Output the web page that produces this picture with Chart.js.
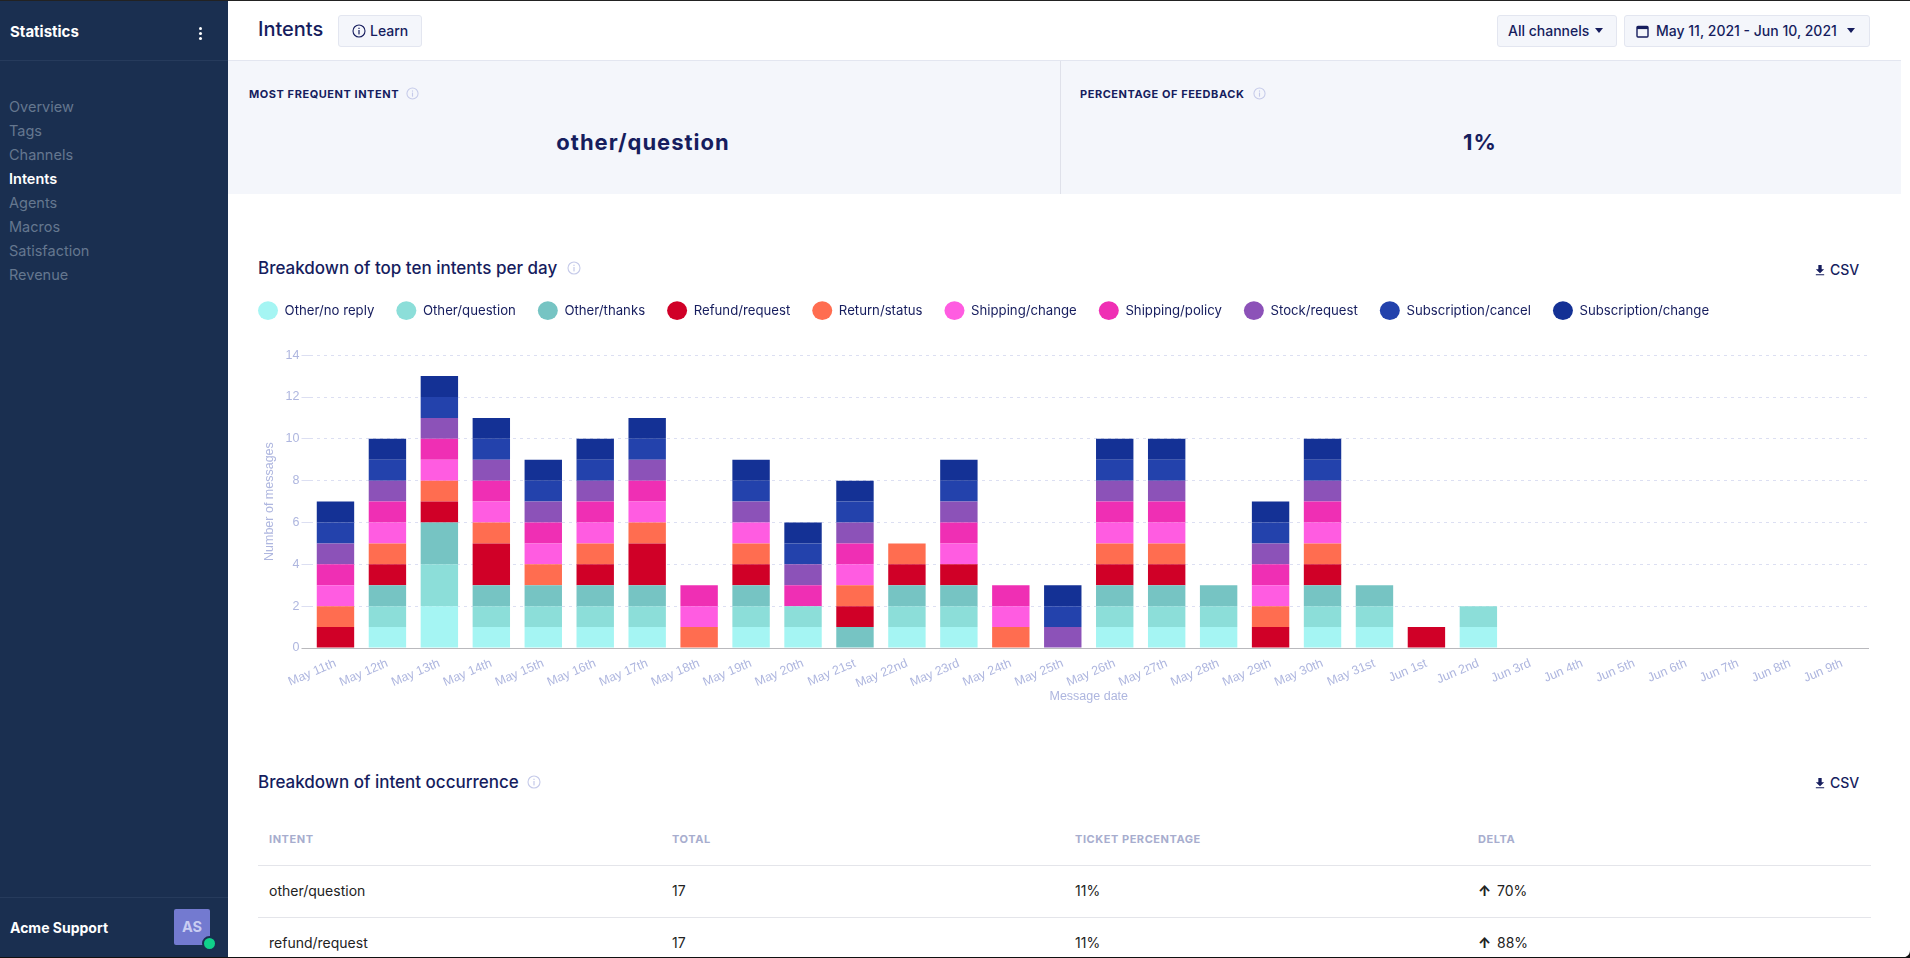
<!DOCTYPE html>
<html>
<head>
<meta charset="utf-8">
<title>Intents</title>
<script src="https://cdn.jsdelivr.net/npm/chart.js@4"></script>
<style>
  html, body { margin: 0; height: 100%; background: #fff; overflow: hidden; font-family: Inter, sans-serif; color: #161d5e; }
  #page { position: relative; width: 1910px; height: 958px; overflow: hidden; background: #fff; }
  #page > div, #page > svg, #side > div { position: absolute; white-space: nowrap; }
  .t { transform: translateY(-50%); line-height: 20px; }
  #side { position: absolute; left: 0; top: 0; width: 228px; height: 958px; background: #1a2f50; }
  .nav { left: 9px; font-size: 14.5px; color: #65778f; }
  .btn { background: #f4f6fb; border: 1px solid #e3e6f0; border-radius: 3px; box-sizing: border-box; height: 32px; top: 15px; }
  .panel-label { font-size: 11px; font-weight: 700; letter-spacing: .55px; }
  .big { font-size: 22px; font-weight: 700; letter-spacing: 1px; transform: translate(-50%, -50%); line-height: 28px; }
  .h2 { font-size: 17px; font-weight: 500; }
  .th { font-size: 11px; font-weight: 700; color: #a7adce; letter-spacing: .55px; }
  .td { font-size: 14px; color: #222; }
  .td b { font-weight: 800; margin-right: 2px; }
  .rule { height: 1px; background: #e4e5ea; left: 258px; width: 1613px; }
  .caret { width: 0; height: 0; border-left: 4px solid transparent; border-right: 4px solid transparent; border-top: 5px solid #161d5e; }
  #chartBox { position: absolute; left: 236px; top: 282px; width: 1644px; height: 422px; }
</style>
</head>
<body>
<svg width="0" height="0" style="position:absolute">
  <symbol id="info" viewBox="0 0 14 14">
    <circle cx="7" cy="7" r="6" fill="none" stroke="currentColor" stroke-width="1.1"/>
    <rect x="6.4" y="6" width="1.2" height="4.4" fill="currentColor"/>
    <rect x="6.4" y="3.7" width="1.2" height="1.3" fill="currentColor"/>
  </symbol>
  <symbol id="dl" viewBox="0 0 12 14">
    <path d="M4 1h4v5h3l-5 5-5-5h3z M1 12h10v1.4H1z" fill="currentColor"/>
  </symbol>
</svg>
<div id="page">
  <div id="side">
    <div class="t" style="left:10px;top:32px;font-size:15px;font-weight:700;color:#fff">Statistics</div>
    <div style="left:199px;top:27px;width:3px;height:3px;background:#fff;border-radius:50%;box-shadow:0 5px 0 #fff,0 10px 0 #fff"></div>
    <div style="left:0;top:60px;width:228px;height:1px;background:#263b5c"></div>
    <div class="nav t" style="top:107px">Overview</div>
    <div class="nav t" style="top:131px">Tags</div>
    <div class="nav t" style="top:155px">Channels</div>
    <div class="nav t" style="top:179px;color:#fff;font-weight:600">Intents</div>
    <div class="nav t" style="top:203px">Agents</div>
    <div class="nav t" style="top:227px">Macros</div>
    <div class="nav t" style="top:251px">Satisfaction</div>
    <div class="nav t" style="top:275px">Revenue</div>
    <div style="left:0;top:897px;width:228px;height:1px;background:#263b5c"></div>
    <div class="t" style="left:10px;top:928px;font-size:14px;font-weight:700;color:#fff">Acme Support</div>
    <div style="left:174px;top:909px;width:36px;height:36px;background:#737ad0;border-radius:2px;color:#c9cdf2;font-size:14.5px;font-weight:700;line-height:36px;text-align:center">AS</div>
    <div style="left:202px;top:936px;width:11px;height:11px;background:#10d08a;border:2px solid #1a2f50;border-radius:50%"></div>
  </div>

  <div class="t" style="left:258px;top:29px;font-size:20px;font-weight:500">Intents</div>
  <div class="btn" style="left:338px;width:84px"></div>
  <svg style="left:352px;top:24px;color:#161d5e" width="14" height="14"><use href="#info"/></svg>
  <div class="t" style="left:370px;top:31px;font-size:14px;font-weight:500">Learn</div>

  <div class="btn" style="left:1497px;width:120px"></div>
  <div class="t" style="left:1508px;top:31px;font-size:14px;font-weight:500">All channels</div>
  <div class="caret" style="left:1595px;top:28px"></div>
  <div class="btn" style="left:1624px;width:246px"></div>
  <svg style="left:1636px;top:24px" width="13" height="14" viewBox="0 0 13 14"><rect x="1" y="2.5" width="11" height="10.5" rx="1" fill="none" stroke="#161d5e" stroke-width="1.4"/><rect x="1" y="2.5" width="11" height="2.6" fill="#161d5e"/></svg>
  <div class="t" style="left:1656px;top:31px;font-size:14px;font-weight:500">May 11, 2021 - Jun 10, 2021</div>
  <div class="caret" style="left:1847px;top:28px"></div>

  <div style="left:228px;top:60px;width:1673px;height:134px;background:#f4f6fb;border-top:1px solid #e3e6f0;box-sizing:border-box"></div>
  <div style="left:1060px;top:61px;width:1px;height:133px;background:#dfe1ea"></div>
  <div class="panel-label t" style="left:249px;top:94px">MOST FREQUENT INTENT</div>
  <svg style="left:406px;top:87px;color:#c5cae9" width="13" height="13"><use href="#info"/></svg>
  <div class="big" style="left:643px;top:142px">other/question</div>
  <div class="panel-label t" style="left:1080px;top:94px">PERCENTAGE OF FEEDBACK</div>
  <svg style="left:1253px;top:87px;color:#c5cae9" width="13" height="13"><use href="#info"/></svg>
  <div class="big" style="left:1480px;top:142px">1%</div>

  <div class="h2 t" style="left:258px;top:268px">Breakdown of top ten intents per day</div>
  <svg style="left:567px;top:261px;color:#c5cae9" width="14" height="14"><use href="#info"/></svg>
  <svg style="left:1815px;top:264px;color:#161d5e" width="10" height="12"><use href="#dl"/></svg>
  <div class="t" style="left:1830px;top:270px;font-size:14px;font-weight:500">CSV</div>

  <div id="chartBox"><canvas id="intentsChart"></canvas></div>

  <div class="h2 t" style="left:258px;top:782px">Breakdown of intent occurrence</div>
  <svg style="left:527px;top:775px;color:#c5cae9" width="14" height="14"><use href="#info"/></svg>
  <svg style="left:1815px;top:777px;color:#161d5e" width="10" height="12"><use href="#dl"/></svg>
  <div class="t" style="left:1830px;top:783px;font-size:14px;font-weight:500">CSV</div>

  <div class="th t" style="left:269px;top:839px">INTENT</div>
  <div class="th t" style="left:672px;top:839px">TOTAL</div>
  <div class="th t" style="left:1075px;top:839px">TICKET PERCENTAGE</div>
  <div class="th t" style="left:1478px;top:839px">DELTA</div>
  <div class="rule" style="top:865px"></div>
  <div class="td t" style="left:269px;top:891px">other/question</div>
  <div class="td t" style="left:672px;top:891px">17</div>
  <div class="td t" style="left:1075px;top:891px">11%</div>
  <div class="td t" style="left:1478px;top:891px"><b>↑</b> 70%</div>
  <div class="rule" style="top:917px"></div>
  <div class="td t" style="left:269px;top:943px">refund/request</div>
  <div class="td t" style="left:672px;top:943px">17</div>
  <div class="td t" style="left:1075px;top:943px">11%</div>
  <div class="td t" style="left:1478px;top:943px"><b>↑</b> 88%</div>

  <div style="left:0;top:0;width:1910px;height:1px;background:#222"></div>
  <div style="left:0;top:957px;width:1910px;height:1px;background:#111"></div>
  <svg style="left:1902px;top:950px" width="8" height="8"><path d="M8 0C8 5 5 7 0 8H8z" fill="#111"/></svg>
</div>

<script>
const days = ['May 11th','May 12th','May 13th','May 14th','May 15th','May 16th','May 17th','May 18th','May 19th','May 20th',
  'May 21st','May 22nd','May 23rd','May 24th','May 25th','May 26th','May 27th','May 28th','May 29th','May 30th',
  'May 31st','Jun 1st','Jun 2nd','Jun 3rd','Jun 4th','Jun 5th','Jun 6th','Jun 7th','Jun 8th','Jun 9th'];

const otherNoReply      = [0,1,2,1,1,1,1,0,1,1,0,1,1,0,0,1,1,1,0,1,1,0,1,0,0,0,0,0,0,0];
const otherQuestion     = [0,1,2,1,1,1,1,0,1,1,0,1,1,0,0,1,1,1,0,1,1,0,1,0,0,0,0,0,0,0];
const otherThanks       = [0,1,2,1,1,1,1,0,1,0,1,1,1,0,0,1,1,1,0,1,1,0,0,0,0,0,0,0,0,0];
const refundRequest     = [1,1,1,2,0,1,2,0,1,0,1,1,1,0,0,1,1,0,1,1,0,1,0,0,0,0,0,0,0,0];
const returnStatus      = [1,1,1,1,1,1,1,1,1,0,1,1,0,1,0,1,1,0,1,1,0,0,0,0,0,0,0,0,0,0];
const shippingChange    = [1,1,1,1,1,1,1,1,1,0,1,0,1,1,0,1,1,0,1,1,0,0,0,0,0,0,0,0,0,0];
const shippingPolicy    = [1,1,1,1,1,1,1,1,0,1,1,0,1,1,0,1,1,0,1,1,0,0,0,0,0,0,0,0,0,0];
const stockRequest      = [1,1,1,1,1,1,1,0,1,1,1,0,1,0,1,1,1,0,1,1,0,0,0,0,0,0,0,0,0,0];
const subscriptionCancel = [1,1,1,1,1,1,1,0,1,1,1,0,1,0,1,1,1,0,1,1,0,0,0,0,0,0,0,0,0,0];
const subscriptionChange = [1,1,1,1,1,1,1,0,1,1,1,0,1,0,1,1,1,0,1,1,0,0,0,0,0,0,0,0,0,0];

const seriesNames = ['Other/no reply','Other/question','Other/thanks','Refund/request','Return/status',
  'Shipping/change','Shipping/policy','Stock/request','Subscription/cancel','Subscription/change'];
const seriesValues = [otherNoReply, otherQuestion, otherThanks, refundRequest, returnStatus,
  shippingChange, shippingPolicy, stockRequest, subscriptionCancel, subscriptionChange];
const seriesColors = ['#a5f5f3','#8cded9','#76c4c3','#d00027','#ff6d50','#ff5ce1','#ef2fb4','#8c52b8','#2342ac','#143195'];

const axisColor = '#aeb6df';

// the legend sits higher than chart.js would leave it, so pad below it
const legendGap = {
  id: 'legendGap',
  beforeInit(chart) {
    const fit = chart.legend.fit;
    chart.legend.fit = function () {
      fit.call(this);
      this.height += 28;
    };
  }
};

new Chart(document.getElementById('intentsChart'), {
  type: 'bar',
  plugins: [legendGap],
  data: {
    labels: days,
    datasets: seriesNames.map((name, i) => ({
      label: name,
      data: seriesValues[i],
      backgroundColor: seriesColors[i],
      borderWidth: 0,
      barPercentage: 0.72,
      categoryPercentage: 1
    }))
  },
  options: {
    responsive: true,
    maintainAspectRatio: false,
    animation: false,
    layout: { padding: { left: 0, right: 12 } },
    plugins: {
      tooltip: { enabled: false },
      legend: {
        align: 'start',
        labels: {
          usePointStyle: true,
          pointStyle: 'circle',
          pointStyleWidth: 20,
          padding: 22,
          color: '#161d5e',
          font: { family: 'Inter', size: 13.2 },
          generateLabels(chart) {
            return chart.data.datasets.map((ds, i) => ({
              text: ds.label, fillStyle: seriesColors[i], strokeStyle: seriesColors[i],
              lineWidth: 0, pointStyle: 'circle', datasetIndex: i, fontColor: '#161d5e'
            }));
          }
        }
      }
    },
    scales: {
      x: {
        stacked: true,
        afterFit(scale) { scale.height = 56; },
        grid: { display: false },
        border: { color: '#b9b9bd', width: 1 },
        title: { display: true, text: 'Message date', color: axisColor, padding: 0, font: { size: 12.5 } },
        ticks: { color: axisColor, autoSkip: false, minRotation: 23, maxRotation: 23, padding: 0, font: { size: 12.5 } }
      },
      y: {
        stacked: true,
        min: 0,
        max: 14,
        afterFit(scale) { scale.width = 73.5; },
        border: {
          display: false,
          dash: ctx => (ctx.tick && ctx.tick.value === 0 ? [] : [3, 4])
        },
        grid: {
          color: ctx => (ctx.tick && ctx.tick.value === 0 ? '#b9b9bd' : '#dcdff2'),
          tickLength: 8,
          tickColor: ctx => (ctx.tick && ctx.tick.value === 0 ? '#b9b9bd' : '#dcdff2')
        },
        title: { display: true, text: 'Number of messages', color: axisColor, padding: { top: 26, bottom: 0 }, font: { size: 12.5 } },
        ticks: { color: axisColor, stepSize: 2, padding: 2, font: { size: 12.5 } }
      }
    }
  }
});
</script>
</body>
</html>
